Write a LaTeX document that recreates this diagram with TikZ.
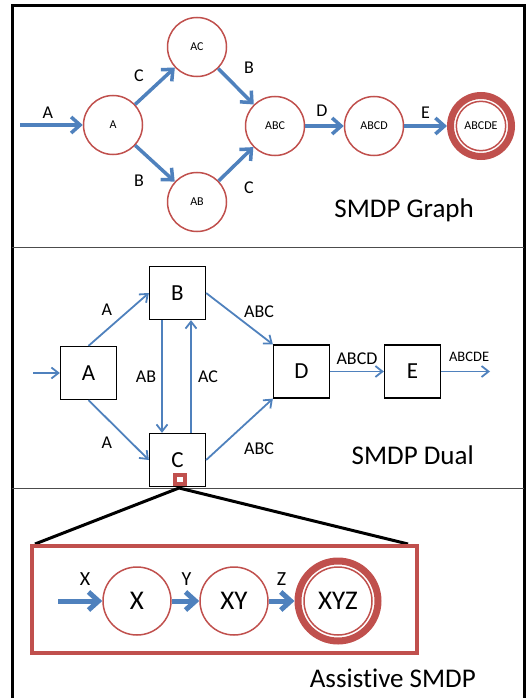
\documentclass[tikz,border=0pt]{standalone}
\usepackage{fontspec}
\setmainfont{Carlito}[Ligatures=NoCommon]
\usepackage{xcolor}
\usepackage{tikz}
\usetikzlibrary{arrows.meta, positioning, calc}

\definecolor{bleuflux}{HTML}{4F81BD}
\definecolor{rougeetat}{HTML}{C0504D}

\begin{document}
\begin{tikzpicture}[
        x=1pt, y=-1pt,
        etat/.style={circle, draw=rougeetat, line width=1.5pt, minimum size=59pt, inner sep=0pt, font=\fontsize{12}{14}\selectfont},
        but/.style={circle, draw=rougeetat, line width=7pt, minimum size=61pt, inner sep=0pt, font=\fontsize{12}{14}\selectfont},
        grandetat/.style={etat, minimum size=68pt, font=\fontsize{27}{30}\selectfont},
        grandbut/.style={but, minimum size=80pt, font=\fontsize{27}{30}\selectfont},
        boite/.style={rectangle, draw=black, line width=1.3pt, minimum width=56pt, minimum height=53pt, inner sep=0pt, font=\fontsize{23}{26}\selectfont},
        fleche/.style={draw=bleuflux, line width=3.5pt, -{Straight Barb[length=9pt, width=16pt]}},
        flechefine/.style={draw=bleuflux, line width=1.8pt, -{Straight Barb[length=7pt, width=11pt]}},
        flechegrosse/.style={draw=bleuflux, line width=5pt, -{Straight Barb[length=10pt, width=18pt]}},
        etiq/.style={font=\fontsize{18}{20}\selectfont, inner sep=0pt},
        titre/.style={font=\fontsize{27}{30}\selectfont, anchor=base east, inner sep=0pt}
    ]
        \useasboundingbox (0,0) rectangle (527,698);

        % --- Cadre général et séparateurs ---
        \draw[line width=3pt] (12,698) -- (12,6) -- (524,6) -- (524,698);
        \draw[black!70, line width=1pt] (12,247) -- (524,247);
        \draw[black!70, line width=1pt] (12,488) -- (524,488);

        % --- Graphe SMDP : états ---
        \node[etat] (A)    at (113,125) {A};
        \node[etat] (AC)   at (197,47)  {AC};
        \node[etat] (AB)   at (197,202) {AB};
        \node[etat] (ABC)  at (275,126) {ABC};
        \node[etat] (ABCD) at (374,126) {ABCD};
        \node[but]  (ABCDE) at (481,126) {ABCDE};
        \draw[rougeetat, line width=1.5pt] (ABCDE.center) circle (24.7pt);

        % --- Graphe SMDP : transitions ---
        \coordinate (depart) at (20,125);   % entrée du graphe
        \draw[fleche] (depart) -- (A) node[etiq, midway, xshift=-3.5pt, yshift=12pt] {A};
        \draw[fleche] (A) -- (AC) node[etiq, midway, xshift=-16pt, yshift=10pt] {C};
        \draw[fleche] (AC) -- (ABC) node[etiq, midway, xshift=13pt, yshift=18.5pt] {B};
        \draw[fleche] (A) -- (AB) node[etiq, midway, xshift=-16pt, yshift=-17.5pt] {B};
        \draw[fleche] (AB) -- (ABC) node[etiq, midway, xshift=13pt, yshift=-24pt] {C};
        \draw[fleche] (ABC) -- (ABCD) node[etiq, midway, xshift=-2.5pt, yshift=15pt] {D};
        \draw[fleche] (ABCD) -- (ABCDE) node[etiq, midway, yshift=13pt] {E};

        \node[titre] (titreGraphe) at (474,217) {SMDP Graph};

        % --- Dual du SMDP : boîtes ---
        \node[boite] (dA) at (88.5,373)    {A};
        \node[boite] (dB) at (177.5,293)   {B};
        \node[boite] (dC) at (177.5,460)   {C};
        \node[boite] (dD) at (301.5,371.5) {D};
        \node[boite] (dE) at (412.5,371.5) {E};

        % --- Dual du SMDP : flèches ---
        \coordinate (entreeA) at (33,373);     % entrée du dual
        \coordinate (sortieE) at (490,371.5);  % sortie du dual
        \draw[flechefine] (entreeA) -- (dA);
        \draw[flechefine] (dA.north) -- (dB.west)
            node[etiq, midway, xshift=-11.75pt, yshift=9.5pt] {A};
        \draw[flechefine] (dA.south) -- (dC.west)
            node[etiq, midway, xshift=-11.75pt, yshift=-13pt] {A};
        \draw[flechefine] ([xshift=-15.5pt]dB.south) -- ([xshift=-15.5pt]dC.north)
            node[etiq, midway, xshift=-16pt] {AB};
        \draw[flechefine] ([xshift=13.5pt]dC.north) -- ([xshift=13.5pt]dB.south)
            node[etiq, midway, xshift=17pt] {AC};
        \draw[flechefine] (dB.east) -- (dD.north west)
            node[etiq, midway, xshift=19.5pt, yshift=7pt] {ABC};
        \draw[flechefine] (dC.east) -- (dD.south west)
            node[etiq, midway, xshift=19.5pt, yshift=-19pt] {ABC};
        \draw[flechefine] (dD) -- (dE) node[etiq, midway, yshift=13pt] {ABCD};
        \draw[flechefine] (dE) -- (sortieE)
            node[etiq, font=\fontsize{14.5}{16}\selectfont, midway, xshift=3.5pt, yshift=15pt] {ABCDE};

        \node[titre] (titreDual) at (474,464) {SMDP Dual};

        % --- Zoom sur la boîte C ---
        \coordinate (sommet) at (179,488);
        \coordinate (coinG)  at (35,544);
        \coordinate (coinD)  at (408,544);
        \draw[black, line width=3pt] (coinG) -- (sommet) -- (coinD);
        \node[draw=rougeetat, line width=4pt, minimum width=10.5pt, minimum height=8.5pt, inner sep=0pt]
            (loupe) at (180,479.5) {};
        \node[draw=rougeetat, line width=3.5pt, minimum width=385pt, minimum height=107pt, inner sep=0pt]
            (cadre) at (224.4,599.3) {};

        % --- SMDP assistif ---
        \node[grandetat] (X)   at (137,601) {X};
        \node[grandetat] (XY)  at (234,601) {XY};
        \node[grandbut]  (XYZ) at (338,601) {XYZ};
        \draw[rougeetat, line width=1.5pt] (XYZ.center) circle (34pt);

        \coordinate (entreeX) at (58,601);
        \draw[flechegrosse] (entreeX) -- (X)
            node[etiq, font=\fontsize{20}{22}\selectfont, midway, xshift=5pt, yshift=22pt] {X};
        \draw[flechegrosse] (X) -- (XY)
            node[etiq, font=\fontsize{20}{22}\selectfont, midway, xshift=1pt, yshift=22pt] {Y};
        \draw[flechegrosse] (XY) -- (XYZ)
            node[etiq, font=\fontsize{20}{22}\selectfont, midway, yshift=22pt] {Z};

        \node[titre] (titreAssist) at (476,687) {Assistive SMDP};

    \end{tikzpicture}
\end{document}
